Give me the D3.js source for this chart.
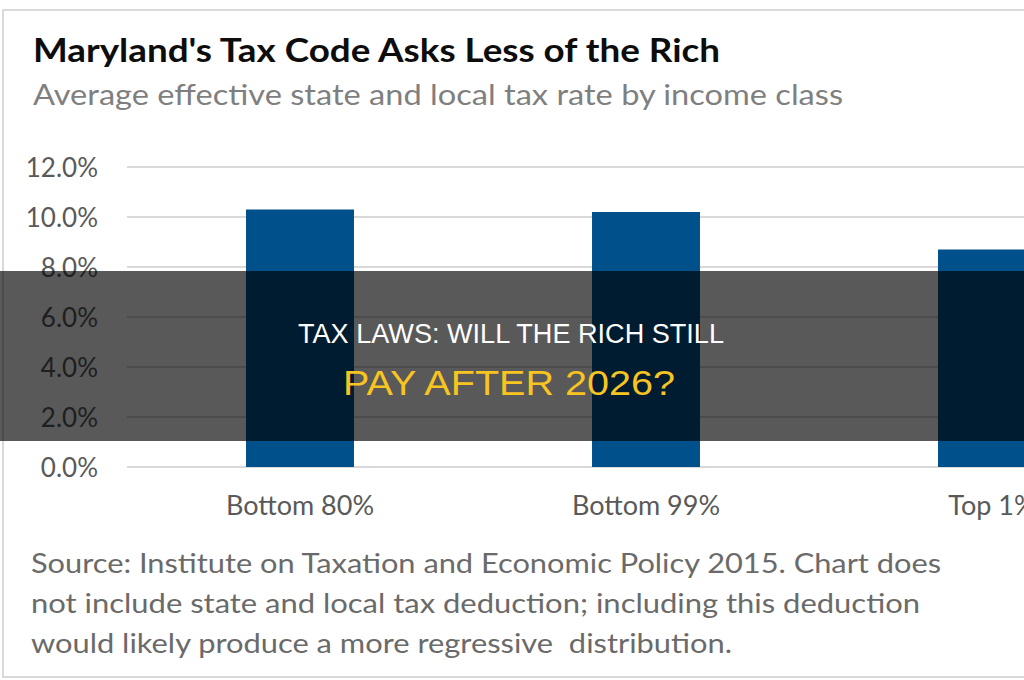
<!DOCTYPE html>
<html><head><meta charset="utf-8">
<script src="https://cdn.jsdelivr.net/npm/d3@7"></script>
<style>html,body{margin:0;padding:0;background:#fff;overflow:hidden}</style>
</head><body>
<svg id="c" width="1024" height="680"></svg>
<script>
const categories = ["Bottom 80%", "Bottom 99%", "Top 1%"];
const values = [10.3, 10.2, 8.7];
const yTicks = [0, 2, 4, 6, 8, 10, 12];
const title = "Maryland's Tax Code Asks Less of the Rich";
const subtitle = "Average effective state and local tax rate by income class";
const sourceLines = [
  "Source: Institute on Taxation and Economic Policy 2015. Chart does",
  "not include state and local tax deduction; including this deduction",
  "would likely produce a more regressive  distribution."
];
const overlayLines = ["TAX LAWS: WILL THE RICH STILL", "PAY AFTER 2026?"];

const svg = d3.select("#c");
const font = "Lato, 'Open Sans', sans-serif";

// frame
svg.append("rect").attr("x", 3).attr("y", 10).attr("width", 1040).attr("height", 667)
  .attr("fill", "#fff").attr("stroke", "#d9d9d9").attr("stroke-width", 2);

// title & subtitle
svg.append("text").attr("x", 33).attr("y", 62).text(title)
  .attr("font-family", font).attr("font-weight", 700).attr("font-size", 33)
  .attr("fill", "#0d0d0d").attr("textLength", 687).attr("lengthAdjust", "spacingAndGlyphs");
svg.append("text").attr("x", 33).attr("y", 105).text(subtitle)
  .attr("font-family", font).attr("font-size", 29)
  .attr("fill", "#7f7f7f").attr("textLength", 810).attr("lengthAdjust", "spacingAndGlyphs");

const x = d3.scaleBand().domain(categories).range([127, 1165]).paddingInner(0.688).paddingOuter(0.344);
const y = d3.scaleLinear().domain([0, 12]).range([467, 167]);

// y tick labels
const yAxis = d3.axisLeft(y).tickValues(yTicks).tickSize(0).tickPadding(0)
  .tickFormat(d => d3.format(".1f")(d) + "%");
const gy = svg.append("g").attr("transform", "translate(98,0)").call(yAxis);
gy.select(".domain").remove();
gy.selectAll("text").attr("font-family", font).attr("font-size", 26).attr("fill", "#595959")
  .attr("dy", "0.35em").attr("x", 0);

// gridlines
svg.append("g").selectAll("line").data(yTicks).join("line")
  .attr("x1", 127).attr("x2", 1024)
  .attr("y1", d => y(d)).attr("y2", d => y(d))
  .attr("stroke", "#d9d9d9").attr("stroke-width", 2);

// bars
svg.append("g").selectAll("rect").data(values).join("rect")
  .attr("x", (d, i) => x(categories[i]))
  .attr("width", x.bandwidth())
  .attr("y", d => y(d))
  .attr("height", d => y(0) - y(d))
  .attr("fill", "#00508b");

// x axis labels
const xAxis = d3.axisBottom(x).tickSize(0).tickPadding(0);
const gx = svg.append("g").attr("transform", "translate(0,506)").call(xAxis);
gx.select(".domain").remove();
gx.selectAll("text").attr("font-family", font).attr("font-size", 27).attr("fill", "#595959")
  .attr("dy", "0.35em").attr("y", 0);

// source
svg.append("g").selectAll("text").data(sourceLines).join("text")
  .attr("x", 31).attr("y", (d, i) => 573 + i * 40).text(d => d)
  .attr("font-family", font).attr("font-size", 26).attr("fill", "#6a6a6a")
  .style("white-space", "pre")
  .attr("textLength", (d, i) => [910, 889, 701][i]).attr("lengthAdjust", "spacingAndGlyphs");

// overlay
svg.append("rect").attr("x", 0).attr("y", 271).attr("width", 1024).attr("height", 170)
  .attr("fill", "rgba(0,0,0,0.65)");
const ofont = "'Liberation Sans', Arial, sans-serif";
svg.append("text").attr("x", 298).attr("y", 343).text(overlayLines[0])
  .attr("font-family", ofont).attr("font-size", 27).attr("fill", "#ffffff")
  .attr("textLength", 426).attr("lengthAdjust", "spacingAndGlyphs");
svg.append("text").attr("x", 343).attr("y", 395).text(overlayLines[1])
  .attr("font-family", ofont).attr("font-size", 35).attr("fill", "#f7c421")
  .attr("textLength", 332).attr("lengthAdjust", "spacingAndGlyphs");
</script>
</body></html>
